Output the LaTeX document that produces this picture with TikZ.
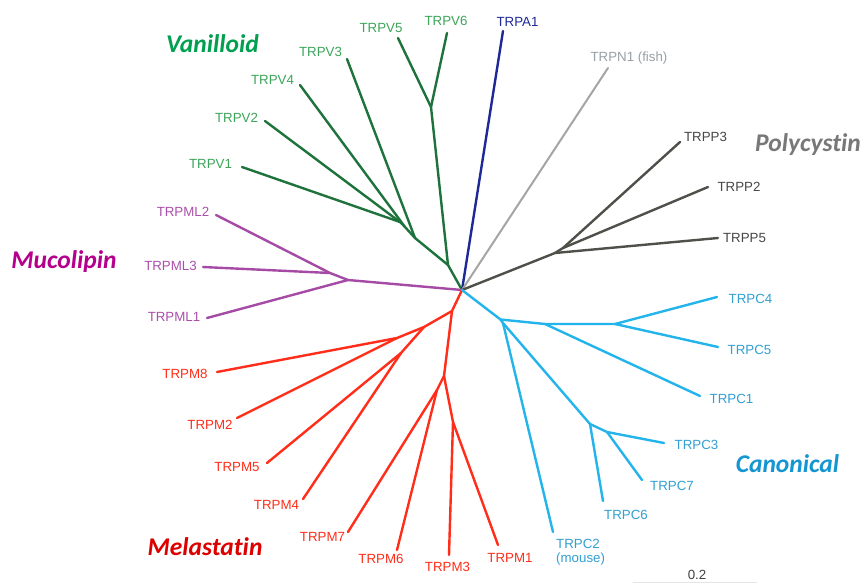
\documentclass[tikz,border=0pt]{standalone}
\usepackage{fontspec}
\setmainfont{Liberation Sans}
\newfontfamily\grpfont[Ligatures=NoCommon]{Carlito}
\definecolor{vline}{RGB}{30,115,60}
\definecolor{vtext}{RGB}{60,165,90}
\definecolor{vgrp}{RGB}{0,160,80}
\definecolor{aline}{RGB}{30,40,150}
\definecolor{nline}{RGB}{165,165,165}
\definecolor{ntext}{RGB}{150,160,165}
\definecolor{pline}{RGB}{80,80,75}
\definecolor{ptext}{RGB}{70,70,70}
\definecolor{pgrp}{RGB}{120,120,120}
\definecolor{mlline}{RGB}{165,75,165}
\definecolor{mltext}{RGB}{170,80,170}
\definecolor{mlgrp}{RGB}{180,0,140}
\definecolor{mline}{RGB}{255,45,25}
\definecolor{mgrp}{RGB}{220,0,0}
\definecolor{cline}{RGB}{35,180,235}
\definecolor{ctext}{RGB}{50,160,210}
\definecolor{cgrp}{RGB}{20,150,210}
\tikzset{
  br/.style={line width=2.4pt, line cap=round, line join=round},
  lab/.style={inner sep=0pt, font=\fontsize{13.3}{14}\selectfont},
  grp/.style={inner sep=0pt, font=\grpfont\bfseries\itshape\fontsize{25.5}{27}\selectfont},
}
\begin{document}
\begin{tikzpicture}[x=1pt,y=-1pt]
\useasboundingbox (0,0) rectangle (865,584);
\fill[white] (0,0) rectangle (865,584);

% root
\coordinate (root) at (462,290);

% ---------- Vanilloid ----------
\coordinate (g1) at (448,265);
\coordinate (g2) at (415,238);
\coordinate (g3b) at (405,227);
\coordinate (g3) at (400,222);
\coordinate (g56) at (431,107);
\coordinate (v1) at (242,167);
\coordinate (v2) at (265,121);
\coordinate (v4) at (300,85);
\coordinate (v3) at (347,59);
\coordinate (v5) at (398,38);
\coordinate (v6) at (447,33);
\draw[br,vline] (root) -- (g1) -- (g2) -- (g3b) -- (g3) -- (v1);
\draw[br,vline] (g3) -- (v2);
\draw[br,vline] (g3b) -- (v4);
\draw[br,vline] (g2) -- (v3);
\draw[br,vline] (g1) -- (g56) -- (v5);
\draw[br,vline] (g56) -- (v6);
\node[lab,text=vtext] (tv1) at (210.5,164) {TRPV1};
\node[lab,text=vtext] (tv2) at (236.5,118) {TRPV2};
\node[lab,text=vtext] (tv4) at (272.5,80) {TRPV4};
\node[lab,text=vtext] (tv3) at (320.5,51.7) {TRPV3};
\node[lab,text=vtext] (tv5) at (381,27.7) {TRPV5};
\node[lab,text=vtext] (tv6) at (446,21) {TRPV6};
\node[grp,text=vgrp] (gv) at (212.5,43.3) {Vanilloid};

% ---------- TRPA1 / TRPN1 ----------
\coordinate (a1) at (503,31);
\coordinate (n1) at (608,68);
\draw[br,aline] (root) -- (a1);
\draw[br,nline,line width=2pt] (root) -- (n1);
\node[lab,text=aline] (ta1) at (517.5,21.7) {TRPA1};
\node[lab,text=ntext] (tn1) at (629,58.3) {TRPN1 (fish)};

% ---------- Polycystin ----------
\coordinate (p1) at (555,253);
\coordinate (p2) at (563,248);
\coordinate (pp3) at (680,142);
\coordinate (pp2) at (708,187);
\coordinate (pp5) at (718,238);
\draw[br,pline] (root) -- (p1) -- (pp5);
\draw[br,pline] (p1) -- (p2) -- (pp3);
\draw[br,pline] (p2) -- (pp2);
\node[lab,text=ptext] (tp3) at (705.5,136.7) {TRPP3};
\node[lab,text=ptext] (tp2) at (739,187.3) {TRPP2};
\node[lab,text=ptext] (tp5) at (744.5,238.3) {TRPP5};
\node[grp,text=pgrp] (gp) at (808,145) {Polycystin};

% ---------- Mucolipin ----------
\coordinate (ml0) at (348,280);
\coordinate (ml23) at (330,273);
\coordinate (ml2) at (216,215);
\coordinate (ml3) at (203,267);
\coordinate (ml1) at (207,318);
\draw[br,mlline] (root) -- (ml0) -- (ml23) -- (ml2);
\draw[br,mlline] (ml23) -- (ml3);
\draw[br,mlline] (ml0) -- (ml1);
\node[lab,text=mltext] (tml2) at (183,211.7) {TRPML2};
\node[lab,text=mltext] (tml3) at (170.5,266) {TRPML3};
\node[lab,text=mltext] (tml1) at (174,316.7) {TRPML1};
\node[grp,text=mlgrp] (gml) at (64,261.7) {Mucolipin};

% ---------- Melastatin ----------
\coordinate (r1) at (452,311);
\coordinate (r2) at (424,327);
\coordinate (r3) at (397,338);
\coordinate (r45) at (401,353);
\coordinate (r4) at (444,376);
\coordinate (r6) at (437,390);
\coordinate (r5) at (453,422);
\coordinate (m8) at (217,372);
\coordinate (m2) at (237,418);
\coordinate (m5) at (267,463);
\coordinate (m4) at (303,499);
\coordinate (m7) at (348,532);
\coordinate (m6) at (397,550);
\coordinate (m3) at (449,555);
\coordinate (m1) at (498,545);
\draw[br,mline] (root) -- (r1) -- (r2) -- (r3) -- (m8);
\draw[br,mline] (r3) -- (m2);
\draw[br,mline] (r2) -- (r45) -- (m5);
\draw[br,mline] (r45) -- (m4);
\draw[br,mline] (r1) -- (r4) -- (r6) -- (m7);
\draw[br,mline] (r6) -- (m6);
\draw[br,mline] (r4) -- (r5) -- (m3);
\draw[br,mline] (r5) -- (m1);
\node[lab,text=mline] (tm8) at (185,374.3) {TRPM8};
\node[lab,text=mline] (tm2) at (210,425) {TRPM2};
\node[lab,text=mline] (tm5) at (237,466.7) {TRPM5};
\node[lab,text=mline] (tm4) at (276.5,505) {TRPM4};
\node[lab,text=mline] (tm7) at (322.5,536.7) {TRPM7};
\node[lab,text=mline] (tm6) at (381,559) {TRPM6};
\node[lab,text=mline] (tm3) at (447.5,566.7) {TRPM3};
\node[lab,text=mline] (tm1) at (510,557.5) {TRPM1};
\node[grp,text=mgrp] (gm) at (205,546.7) {Melastatin};

% ---------- Canonical ----------
\coordinate (c1) at (500.5,319.5);
\coordinate (c1b) at (503,323);
\coordinate (c2) at (545,324);
\coordinate (c3) at (615,324);
\coordinate (c5) at (590,424);
\coordinate (c6) at (607,432);
\coordinate (cc4) at (717,297);
\coordinate (cc5) at (718,347);
\coordinate (cc1) at (700,396);
\coordinate (cc3) at (664,443);
\coordinate (cc7) at (642,480);
\coordinate (cc6) at (603,501);
\coordinate (cc2) at (553,532);
\draw[br,cline] (root) -- (c1) -- (c2) -- (c3) -- (cc4);
\draw[br,cline] (c3) -- (cc5);
\draw[br,cline] (c2) -- (cc1);
\draw[br,cline] (c1) -- (c1b) -- (c5) -- (cc6);
\draw[br,cline] (c5) -- (c6) -- (cc3);
\draw[br,cline] (c6) -- (cc7);
\draw[br,cline] (c1b) -- (cc2);
\node[lab,text=ctext] (tc4) at (750.5,299.3) {TRPC4};
\node[lab,text=ctext] (tc5) at (749.5,350) {TRPC5};
\node[lab,text=ctext] (tc1) at (731.5,399) {TRPC1};
\node[lab,text=ctext] (tc3) at (696.5,445) {TRPC3};
\node[lab,text=ctext] (tc7) at (672,486) {TRPC7};
\node[lab,text=ctext] (tc6) at (626,515) {TRPC6};
\node[lab,text=ctext,anchor=north west,align=left] (tc2) at (556,539) {TRPC2\\[0.5pt](mouse)};
\node[grp,text=cgrp] (gc) at (787.5,463.3) {Canonical};

% ---------- scale ----------
\coordinate (s0) at (633,582.5);
\coordinate (s1) at (757,582.5);
\draw[line width=0.8pt,black!10] (s0) -- (s1);
\node[lab,text=black!75] (ts) at (697,575) {0.2};
\end{tikzpicture}
\end{document}
